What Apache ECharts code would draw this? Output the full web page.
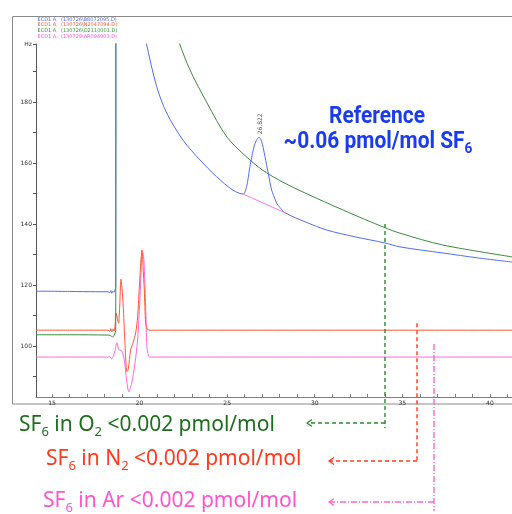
<!DOCTYPE html>
<html>
<head>
<meta charset="utf-8">
<script src="https://cdn.jsdelivr.net/npm/echarts@6/dist/echarts.min.js"></script>
<style>
  html, body { margin: 0; padding: 0; background: #ffffff; }
  #chart { width: 512px; height: 514px; }
</style>
</head>
<body>
<div id="chart"></div>
<script>
// ECD signal traces (retention time in min, detector signal in Hz)
const blueTime = [14.09, 16.0, 17.5, 18.2, 18.3, 18.36, 18.42, 18.48, 18.54, 18.6, 18.64, 18.66,
  20.2, 20.37, 20.98, 21.55, 22.48, 23.45, 24.4, 25.33, 25.92, 26.11, 26.2, 26.3, 26.4, 26.49,
  26.58, 26.68, 26.75, 26.822, 26.9, 26.97, 27.06, 27.16, 27.25, 27.35, 27.45, 27.54, 27.65,
  27.83, 28.0, 28.3, 29.5, 30.7, 32.3, 34.0, 34.86, 37.32, 39.3, 41.3];
const blueSignal = [118.0, 117.9, 117.8, 117.8, 117.5, 118.2, 117.3, 118.0, 117.6, 118.4, 119.5, 420,
  205, 199.7, 185.0, 176.4, 167.5, 161.0, 155.5, 151.1, 149.8, 152.2, 155.0, 158.8, 161.8, 164.3,
  166.2, 167.5, 168.1, 168.4, 168.0, 167.0, 165.0, 162.1, 159.5, 156.6, 153.5, 151.1, 149.4,
  146.8, 145.5, 143.7, 140.6, 138.0, 135.8, 133.8, 132.5, 130.5, 128.9, 127.5];

const redTime = [14.09, 16.0, 18.2, 18.3, 18.36, 18.42, 18.48, 18.54, 18.6, 18.67, 18.74, 18.8,
  18.86, 18.94, 19.0, 19.07, 19.15, 19.22, 19.28, 19.36, 19.49, 19.6, 19.78, 19.89, 19.98, 20.08,
  20.14, 20.2, 20.27, 20.35, 20.44, 20.55, 41.3];
const redSignal = [105.2, 105.2, 105.2, 104.8, 105.7, 104.6, 105.6, 104.9, 106.5, 110.7, 109.0, 107.5,
  112.0, 121.9, 119.0, 112.9, 103.0, 95.0, 91.6, 92.5, 98.7, 100.5, 104.3, 109.6, 118.4, 128.2,
  131.5, 126.0, 118.4, 107.5, 105.6, 105.2, 105.2];

const greenTime = [14.09, 16.0, 18.2, 18.35, 18.45, 18.52, 18.58, 18.64, 18.66,
  21.7, 22.25, 22.88, 23.85, 24.99, 26.3, 27.27, 28.77, 31.61, 34.0, 34.86, 37.32, 41.3];
const greenSignal = [103.7, 103.7, 103.6, 103.4, 103.0, 103.2, 104.0, 105.0, 420,
  210, 199.7, 190.5, 179.7, 168.5, 161.0, 156.7, 152.0, 144.6, 138.8, 137.0, 133.1, 129.2];

const pinkTime = [14.09, 16.0, 18.2, 18.3, 18.4, 18.5, 18.6, 18.71, 18.82, 18.98, 19.13, 19.26,
  19.39, 19.55, 19.74, 19.89, 20.02, 20.12, 20.16, 20.25, 20.35, 20.42, 20.54, 20.7, 41.3];
const pinkSignal = [96.4, 96.4, 96.4, 96.5, 95.8, 96.6, 98.5, 101.1, 98.7, 98.5, 95.4, 88.9,
  85.0, 87.8, 94.3, 102.0, 115.0, 129.3, 131.0, 128.2, 112.9, 99.8, 96.5, 96.4, 96.4];

// integration baseline drawn under the reference peak
const baselineTime = [25.92, 28.3];
const baselineSignal = [149.8, 143.7];

// axis ticks and labels
const xTickValues = [15, 16, 17, 18, 19, 20, 21, 22, 23, 24, 25, 26, 27, 28, 29, 30, 31, 32, 33, 34, 35, 36, 37, 38, 39, 40, 41];
const xLabelValues = [15, 20, 25, 30, 35, 40];
const yTickValues = [90, 100, 110, 120, 130, 140, 150, 160, 170, 180, 190, 199];
const yLabelValues = [100, 120, 140, 160, 180, 199];
const yUnit = 'Hz';

// run list and peak annotation
const runNames = [
  'ECD1 A,  (130726\\B8072095.D)',
  'ECD1 A,  (130726\\N2047094.D)',
  'ECD1 A,  (130726\\O2110001.D)',
  'ECD1 A,  (130729\\AR094903.D)'
];
const peakTime = 26.822;
const peakSignal = 168.4;
const peakLabel = '26.822';

// pointers from each blank run to its result text: [time, signal where pointer starts]
const o2Pointer = [34.0, 140.0];
const n2Pointer = [35.83, 107.5];
const arPointer = [36.8, 100.7];

const C = {
  blue: '#4f6ef5',
  red: '#ff5533',
  green: '#3a8c3a',
  pink: '#ff66dd',
  textGreen: '#1f6e1f',
  textRed: '#ff3a1c',
  textPink: '#ff55cc',
  refBlue: '#1a3cf0'
};

function pairs(t, v) { return t.map((x, i) => [x, v[i]]); }

const chart = echarts.init(document.getElementById('chart'), null, { renderer: 'canvas' });

function lineSeries(name, t, v, color, z, smooth) {
  return {
    name: name, type: 'line', data: pairs(t, v), showSymbol: false, symbol: 'none',
    clip: true, z: z || 2, animation: false,
    smooth: smooth || false,
    lineStyle: { color: color, width: 1 }
  };
}

const axisFont = { fontFamily: 'DejaVu Sans', fontSize: 6, color: '#333' };

chart.setOption({
  animation: false,
  backgroundColor: '#ffffff',
  grid: { left: 36, top: 44, right: 0, bottom: 117, outerBoundsMode: 'none', containLabel: false },
  xAxis: {
    type: 'value', min: 14.09, max: 41.26,
    axisLine: { show: true, lineStyle: { color: '#808080', width: 1 } },
    axisTick: { show: true, inside: true, length: 3, customValues: xTickValues, lineStyle: { color: '#808080' } },
    axisLabel: Object.assign({ show: true, margin: 3, customValues: xLabelValues }, axisFont),
    splitLine: { show: false }
  },
  yAxis: {
    type: 'value', min: 83.3, max: 199,
    axisLine: { show: true, lineStyle: { color: '#555', width: 1 } },
    axisTick: { show: true, inside: false, length: 3, customValues: yTickValues, lineStyle: { color: '#555' } },
    axisLabel: Object.assign({
      show: true, margin: 4, customValues: yLabelValues,
      formatter: v => (v >= 199 ? yUnit : String(v))
    }, axisFont),
    splitLine: { show: false }
  },
  series: [
    lineSeries('pink', pinkTime, pinkSignal, C.pink, 2, 0.25),
    lineSeries('red', redTime, redSignal, C.red, 3, 0.25),
    lineSeries('green', greenTime, greenSignal, C.green, 4, 0.3),
    lineSeries('blue', blueTime, blueSignal, C.blue, 5, 0.3),
    lineSeries('baseline', baselineTime, baselineSignal, '#ff77ee', 6, false)
  ]
});

// overlay: frame, run list, peak label, result texts and pointers
const px = (t, v) => chart.convertToPixel({ gridIndex: 0 }, [t, v]);
const g = [];

g.push({ type: 'rect', shape: { x: 12.5, y: 16.5, width: 520, height: 387.5 },
  style: { fill: 'none', stroke: '#8a8a8a', lineWidth: 1 }, z: 0 });

const runColors = ['#4a6cff', '#ff5a3a', '#3a9a3a', '#ff55dd'];
runNames.forEach((name, i) => {
  g.push({ type: 'text', x: 37.5, y: 19.5 + i * 5.6,
    style: { text: name, fill: runColors[i], font: '5px "DejaVu Sans"', verticalAlign: 'middle' } });
});

const pk = px(peakTime, peakSignal);
g.push({ type: 'text', x: pk[0] + 1, y: pk[1] - 3, rotation: Math.PI / 2,
  style: { text: peakLabel, fill: '#555', font: '6px "DejaVu Sans"', align: 'left', verticalAlign: 'middle' } });

// reference note
g.push({ type: 'text', x: 377, y: 117, scaleX: 0.91,
  style: { text: 'Reference', fill: C.refBlue, font: 'bold 23px Roboto', align: 'center', verticalAlign: 'middle' } });
g.push({ type: 'text', x: 378, y: 142, scaleX: 0.91,
  style: {
    text: '{m|~0.06 pmol/mol SF}{s|6}', align: 'center', verticalAlign: 'middle',
    rich: {
      m: { fill: C.refBlue, fontFamily: 'Roboto', fontWeight: 'bold', fontSize: 23, lineHeight: 30, verticalAlign: 'middle' },
      s: { fill: C.refBlue, fontFamily: 'Roboto', fontWeight: 'bold', fontSize: 15, lineHeight: 30, verticalAlign: 'bottom' }
    }
  } });

function resultText(x, y, gas, color) {
  return { type: 'text', x: x, y: y,
    style: {
      text: '{m|SF}{s|6}{m| in ' + gas[0] + '}' + (gas[1] ? '{s|' + gas[1] + '}' : '') + '{m| <0.002 pmol/mol}',
      align: 'left', verticalAlign: 'middle',
      rich: {
        m: { fill: color, fontFamily: 'Noto Sans', fontSize: 21, lineHeight: 28, verticalAlign: 'middle' },
        s: { fill: color, fontFamily: 'Noto Sans', fontSize: 13, lineHeight: 28, verticalAlign: 'bottom' }
      }
    } };
}
g.push(resultText(19, 425, ['O', '2'], C.textGreen));
g.push(resultText(46, 459, ['N', '2'], C.textRed));
g.push(resultText(43, 501, ['Ar', ''], C.textPink));

function pointer(anchor, rowY, endY, tipX, color, dash) {
  const a = px(anchor[0], anchor[1]);
  const x = Math.round(a[0]);
  const st = { stroke: color, lineWidth: 1.4, lineDash: dash, fill: 'none' };
  g.push({ type: 'line', shape: { x1: x, y1: a[1], x2: x, y2: endY }, style: st, z: 10 });
  g.push({ type: 'line', shape: { x1: x, y1: rowY, x2: tipX, y2: rowY }, style: st, z: 10 });
  g.push({ type: 'polyline', shape: { points: [[tipX + 5, rowY - 3.5], [tipX, rowY], [tipX + 5, rowY + 3.5]] },
    style: { stroke: color, lineWidth: 1.2, fill: 'none' }, z: 10 });
}
pointer(o2Pointer, 423, 428, 307, '#2a8a2a', [4, 3]);
pointer(n2Pointer, 461, 461, 329, '#ff3a1c', [4, 3]);
pointer(arPointer, 502, 511, 329, '#ff66cc', [6, 2, 1, 2]);

chart.setOption({ graphic: { elements: g } });
</script>
</body>
</html>
